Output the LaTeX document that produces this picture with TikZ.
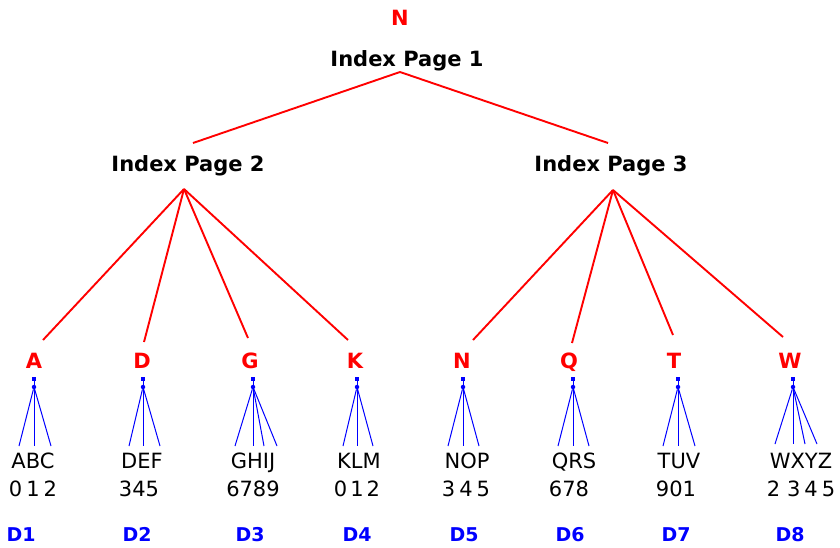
\documentclass[tikz,border=0pt]{standalone}
\usepackage{fontspec}
\setmainfont{DejaVu Sans}
\begin{document}
\begin{tikzpicture}[x=1pt,y=-1pt,
  pagelbl/.style={font=\fontsize{21}{21}\selectfont\bfseries, anchor=base, inner sep=0pt},
  keylbl/.style={font=\fontsize{21}{21}\selectfont\bfseries, text=red, anchor=base, inner sep=0pt},
  datalbl/.style={font=\fontsize{21}{21}\selectfont, anchor=base, inner sep=0pt},
  dlbl/.style={font=\fontsize{19}{19}\selectfont\bfseries, text=blue, anchor=base, inner sep=0pt},
  redline/.style={draw=red, line width=1.9pt},
  blueline/.style={draw=blue, line width=1pt},
  bsq/.style={fill=blue, inner sep=0pt, minimum size=4pt, rectangle},
  bdot/.style={fill=blue, inner sep=0pt, minimum size=4.5pt, circle}]
\useasboundingbox (0,0) rectangle (840,547);
\fill[white] (0,0) rectangle (840,547);

% top level
\node[keylbl] (topkey) at (400,25) {N};
\node[pagelbl] (p1) at (407,66) {Index Page 1};
\node[pagelbl] (p2) at (188,171) {Index Page 2};
\node[pagelbl] (p3) at (611,171) {Index Page 3};

\coordinate (p1bot) at (400,72);
\coordinate (p2top) at (193,143);
\coordinate (p3top) at (608,143);
\coordinate (p2bot) at (184,189);
\coordinate (p3bot) at (613,190);

\draw[redline] (p2top) -- (p1bot) -- (p3top);

% keys
\node[keylbl] (kA) at (34,368) {A};
\node[keylbl] (kD) at (142,368) {D};
\node[keylbl] (kG) at (250,368) {G};
\node[keylbl] (kK) at (355,368) {K};
\node[keylbl] (kN) at (462,368) {N};
\node[keylbl] (kQ) at (569,368) {Q};
\node[keylbl] (kT) at (674,368) {T};
\node[keylbl] (kW) at (790,368) {W};

\coordinate (eA) at (43,340);
\coordinate (eD) at (144,342);
\coordinate (eG) at (248,338);
\coordinate (eK) at (348,340);
\coordinate (eN) at (473,340);
\coordinate (eQ) at (572,343);
\coordinate (eT) at (673,335);
\coordinate (eW) at (783,337);

\foreach \e in {eA,eD,eG,eK} \draw[redline] (p2bot) -- (\e);
\foreach \e in {eN,eQ,eT,eW} \draw[redline] (p3bot) -- (\e);

% blue fans
\foreach \n/\x in {A/34,D/143,G/253,K/357,N/463,Q/573,T/678,W/793} {
  \node[bsq] (s\n) at (\x,379) {};
  \node[bdot] (c\n) at (\x,387) {};
  \draw[blueline] (s\n) -- (c\n);
}
\foreach \n/\xa/\xb/\xc in {A/19/34/51,D/129/143/160,K/343/357/373,N/448/463/479,Q/558/573/589,T/663/678/695} {
  \coordinate (l\n1) at (\xa,446);
  \coordinate (l\n2) at (\xb,446);
  \coordinate (l\n3) at (\xc,446);
  \draw[blueline] (c\n) -- (l\n1);
  \draw[blueline] (c\n) -- (l\n2);
  \draw[blueline] (c\n) -- (l\n3);
}
\coordinate (lG1) at (235,446);
\coordinate (lG2) at (253,446);
\coordinate (lG3) at (264,446);
\coordinate (lG4) at (277,446);
\foreach \i in {1,...,4} \draw[blueline] (cG) -- (lG\i);
\coordinate (lW1) at (775,444);
\coordinate (lW2) at (793,444);
\coordinate (lW3) at (805,444);
\coordinate (lW4) at (817,444);
\foreach \i in {1,...,4} \draw[blueline] (cW) -- (lW\i);

% data
\node[datalbl] (tA) at (33,468) {ABC};
\node[datalbl] (nA) at (33,496) {0\hspace{4pt}1\hspace{4pt}2};
\node[datalbl] (tD) at (142,468) {DEF};
\node[datalbl] (nD) at (139,496) {345};
\node[datalbl] (tG) at (253,468) {GHIJ};
\node[datalbl] (nG) at (253,496) {6789};
\node[datalbl] (tK) at (359,468) {KLM};
\node[datalbl] (nK) at (357,496) {0\hspace{3pt}1\hspace{3pt}2};
\node[datalbl] (tN) at (467,468) {NOP};
\node[datalbl] (nN) at (466,496) {3\hspace{4pt}4\hspace{4pt}5};
\node[datalbl] (tQ) at (574,468) {QRS};
\node[datalbl] (nQ) at (569,496) {678};
\node[datalbl] (tT) at (679,468) {TUV};
\node[datalbl] (nT) at (676,496) {901};
\node[datalbl] (tW) at (801,468) {WXYZ};
\node[datalbl] (nW) at (801,496) {2\hspace{7pt}3\hspace{4pt}4\hspace{4pt}5};

% disk labels
\node[dlbl] (d1) at (21,541) {D1};
\node[dlbl] (d2) at (137,541) {D2};
\node[dlbl] (d3) at (250,541) {D3};
\node[dlbl] (d4) at (357,541) {D4};
\node[dlbl] (d5) at (464,541) {D5};
\node[dlbl] (d6) at (570,541) {D6};
\node[dlbl] (d7) at (676,541) {D7};
\node[dlbl] (d8) at (790,541) {D8};
\end{tikzpicture}
\end{document}
